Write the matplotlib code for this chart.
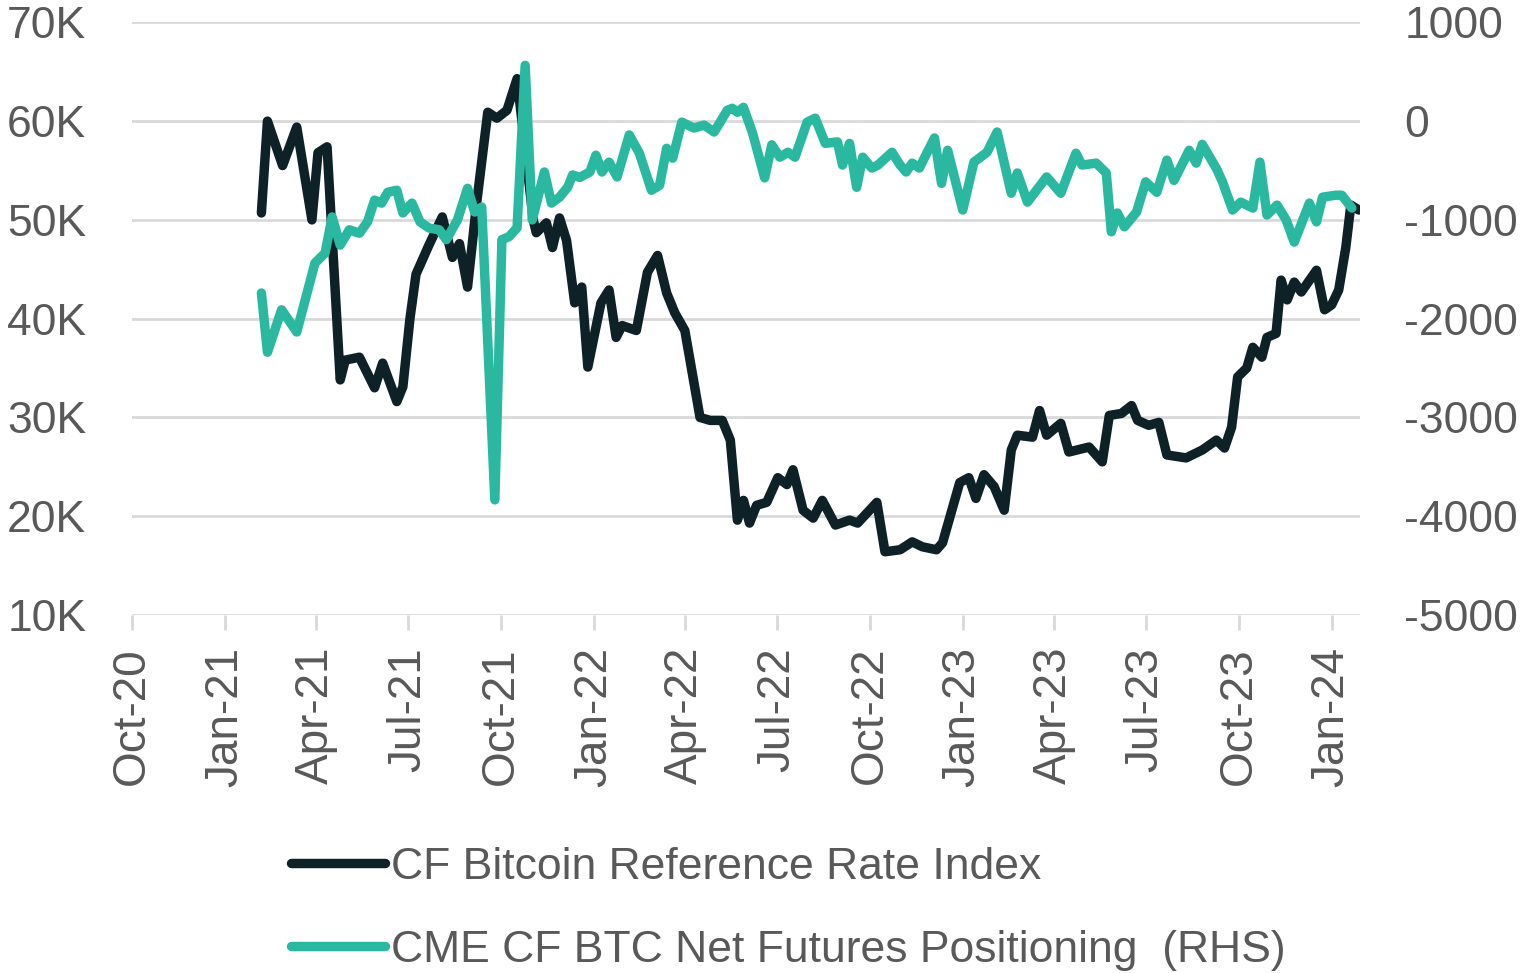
import numpy as np
import pandas as pd
import matplotlib
matplotlib.use("Agg")
import matplotlib.pyplot as plt
import matplotlib.dates as mdates
from matplotlib.ticker import FixedLocator, FuncFormatter

plt.rcParams['font.family'] = ['Liberation Sans', 'DejaVu Sans']

# CF Bitcoin Reference Rate Index (USD thousands)
btc_dates = [
    "2021-02-06", "2021-02-12", "2021-02-27", "2021-03-13", "2021-03-28", "2021-04-03",
    "2021-04-12", "2021-04-25", "2021-04-30", "2021-05-14", "2021-05-29", "2021-06-06",
    "2021-06-20", "2021-06-26", "2021-07-03", "2021-07-09", "2021-07-22", "2021-08-04",
    "2021-08-14", "2021-08-21", "2021-08-29", "2021-09-07", "2021-09-18", "2021-09-27",
    "2021-10-07", "2021-10-17", "2021-11-02", "2021-11-05", "2021-11-15", "2021-11-21",
    "2021-11-28", "2021-12-05", "2021-12-13", "2021-12-20", "2021-12-26", "2022-01-08",
    "2022-01-16", "2022-01-23", "2022-01-29", "2022-02-12", "2022-02-23", "2022-03-05",
    "2022-03-14", "2022-03-22", "2022-04-01", "2022-04-16", "2022-04-26", "2022-05-08",
    "2022-05-16", "2022-05-23", "2022-05-29", "2022-06-04", "2022-06-11", "2022-06-21",
    "2022-07-02", "2022-07-11", "2022-07-17", "2022-07-27", "2022-08-06", "2022-08-15",
    "2022-08-28", "2022-09-11", "2022-09-19", "2022-10-08", "2022-10-16", "2022-10-31",
    "2022-11-12", "2022-11-22", "2022-12-06", "2022-12-12", "2022-12-29", "2023-01-07",
    "2023-01-14", "2023-01-22", "2023-02-01", "2023-02-11", "2023-02-18", "2023-02-24",
    "2023-03-11", "2023-03-18", "2023-03-25", "2023-04-08", "2023-04-16", "2023-05-06",
    "2023-05-19", "2023-05-26", "2023-06-07", "2023-06-17", "2023-06-23", "2023-07-04",
    "2023-07-14", "2023-07-22", "2023-08-10", "2023-08-26", "2023-09-09", "2023-09-17",
    "2023-09-24", "2023-09-30", "2023-10-09", "2023-10-15", "2023-10-24", "2023-10-29",
    "2023-11-07", "2023-11-12", "2023-11-18", "2023-11-25", "2023-12-02", "2023-12-17",
    "2023-12-25", "2024-01-01", "2024-01-08", "2024-01-15", "2024-01-20", "2024-01-28",
]
btc_values = [
    50.7, 60.0, 55.5, 59.4, 50.0, 56.8,
    57.4, 33.8, 35.8, 36.1, 33.0, 35.5,
    31.6, 33.1, 40.0, 44.5, 47.5, 50.3,
    46.2, 47.6, 43.2, 51.7, 60.9, 60.3,
    61.1, 64.3, 50.0, 48.7, 49.7, 47.2,
    50.2, 47.9, 41.6, 43.2, 35.1, 41.6,
    42.9, 38.1, 39.3, 38.8, 44.7, 46.4,
    42.6, 40.6, 38.8, 30.0, 29.7, 29.7,
    27.7, 19.6, 21.6, 19.3, 21.1, 21.4,
    23.9, 23.2, 24.7, 20.6, 19.8, 21.6,
    19.1, 19.6, 19.3, 21.4, 16.4, 16.6,
    17.4, 16.9, 16.6, 17.3, 23.4, 23.9,
    21.8, 24.2, 23.0, 20.6, 26.7, 28.2,
    28.0, 30.7, 28.2, 29.4, 26.5, 27.0,
    25.5, 30.2, 30.4, 31.2, 29.7, 29.2,
    29.5, 26.2, 25.9, 26.7, 27.7, 26.9,
    29.0, 34.1, 35.0, 37.1, 36.1, 38.1,
    38.5, 43.9, 41.9, 43.7, 42.7, 44.9,
    40.9, 41.4, 42.9, 47.2, 51.5, 51.0,
]

# CME CF BTC net futures positioning (contracts, RHS)
pos_dates = [
    "2021-02-06", "2021-02-12", "2021-02-26", "2021-03-13", "2021-03-31", "2021-04-10",
    "2021-04-17", "2021-04-25", "2021-05-04", "2021-05-14", "2021-05-22", "2021-05-29",
    "2021-06-05", "2021-06-11", "2021-06-20", "2021-06-26", "2021-07-05", "2021-07-13",
    "2021-07-22", "2021-08-01", "2021-08-08", "2021-08-19", "2021-08-29", "2021-09-05",
    "2021-09-12", "2021-09-25", "2021-10-02", "2021-10-09", "2021-10-17", "2021-10-25",
    "2021-11-01", "2021-11-13", "2021-11-20", "2021-11-28", "2021-12-06", "2021-12-11",
    "2021-12-18", "2021-12-28", "2022-01-03", "2022-01-09", "2022-01-16", "2022-01-24",
    "2022-02-05", "2022-02-15", "2022-02-27", "2022-03-07", "2022-03-14", "2022-03-20",
    "2022-03-29", "2022-04-10", "2022-04-20", "2022-04-30", "2022-05-13", "2022-05-18",
    "2022-05-23", "2022-05-29", "2022-06-07", "2022-06-19", "2022-06-26", "2022-07-04",
    "2022-07-12", "2022-07-19", "2022-07-31", "2022-08-08", "2022-08-18", "2022-08-30",
    "2022-09-04", "2022-09-11", "2022-09-18", "2022-09-24", "2022-10-03", "2022-10-09",
    "2022-10-23", "2022-10-31", "2022-11-06", "2022-11-12", "2022-11-19", "2022-12-04",
    "2022-12-11", "2022-12-17", "2023-01-01", "2023-01-12", "2023-01-25", "2023-02-04",
    "2023-02-18", "2023-02-24", "2023-03-06", "2023-03-25", "2023-04-08", "2023-04-23",
    "2023-04-29", "2023-05-13", "2023-05-23", "2023-05-28", "2023-06-03", "2023-06-10",
    "2023-06-22", "2023-07-01", "2023-07-12", "2023-07-22", "2023-07-29", "2023-08-13",
    "2023-08-20", "2023-08-26", "2023-09-09", "2023-09-15", "2023-09-25", "2023-10-03",
    "2023-10-15", "2023-10-22", "2023-10-29", "2023-11-08", "2023-11-17", "2023-11-25",
    "2023-12-10", "2023-12-17", "2023-12-23", "2024-01-05", "2024-01-11", "2024-01-21",
]
pos_values = [
    -1740, -2340, -1910, -2135, -1437, -1336,
    -970, -1255, -1100, -1135, -1020, -800,
    -830, -720, -700, -930, -830, -1020,
    -1083, -1100, -1200, -1000, -680, -920,
    -870, -3835, -1200, -1170, -1080, 565,
    -1000, -515, -830, -770, -670, -545,
    -570, -515, -345, -515, -415, -565,
    -140, -325, -700, -650, -275, -375,
    -10, -70, -40, -110, 110, 130,
    90, 140, -120, -575, -240, -365,
    -315, -365, -10, 30, -225, -210,
    -445, -225, -670, -365, -475, -445,
    -315, -445, -515, -425, -475, -170,
    -630, -295, -900, -415, -315, -110,
    -730, -525, -820, -565, -730, -325,
    -445, -425, -525, -1120, -930, -1070,
    -920, -615, -720, -395, -600, -295,
    -425, -235, -480, -615, -900, -820,
    -880, -415, -950, -850, -1000, -1225,
    -830, -1020, -770, -750, -750, -880,
]

x_ticks = pd.date_range("2020-10-01", "2024-01-01", freq="QS-OCT")
left_ticks = [10, 20, 30, 40, 50, 60, 70]
right_ticks = [-5000, -4000, -3000, -2000, -1000, 0, 1000]

dark = "#0e2127"
teal = "#2bb8a1"
grid_c = "#d9d9d9"
text_c = "#595959"

fig = plt.figure(figsize=(15.37, 9.73), dpi=100)
ax = fig.add_axes([0.0859, 0.368, 0.7989, 0.609])
ax2 = ax.twinx()

ax.plot(pd.to_datetime(btc_dates), btc_values, color=dark, lw=6.8,
        solid_joinstyle="round", solid_capstyle="round",
        label="CF Bitcoin Reference Rate Index")
ax2.plot(pd.to_datetime(pos_dates), pos_values, color=teal, lw=6.8,
         solid_joinstyle="round", solid_capstyle="round",
         label="CME CF BTC Net Futures Positioning  (RHS)")

ax.set_xlim(pd.Timestamp("2020-10-01"), pd.Timestamp("2024-01-29"))
ax.set_ylim(10, 70)
ax2.set_ylim(-5000, 1000)

ax.yaxis.set_major_locator(FixedLocator(left_ticks))
ax.yaxis.set_major_formatter(FuncFormatter(lambda v, p: f"{int(v)}K"))
ax2.yaxis.set_major_locator(FixedLocator(right_ticks))
ax2.yaxis.set_major_formatter(FuncFormatter(lambda v, p: f"{int(v)}"))

ax.set_xticks(x_ticks)
ax.xaxis.set_major_formatter(mdates.DateFormatter("%b-%y"))

ax.grid(axis="y", color=grid_c, lw=2)
ax.set_axisbelow(True)
for a in (ax, ax2):
    for s in a.spines.values():
        s.set_visible(False)

ax.tick_params(axis="y", length=0, pad=33, labelsize=32, labelcolor=text_c)
ax2.tick_params(axis="y", length=0, pad=32, labelsize=32, labelcolor=text_c)
ax.tick_params(axis="x", length=11, width=2, color=grid_c, pad=12,
               labelsize=33, labelcolor=text_c, labelrotation=90)

h1, l1 = ax.get_legend_handles_labels()
h2, l2 = ax2.get_legend_handles_labels()
fig.legend(h1 + h2, l1 + l2, loc="upper left", bbox_to_anchor=(0.178, 0.148),
           frameon=False, fontsize=32, labelcolor=text_c, handlelength=2.1,
           handletextpad=0.15, labelspacing=0.95, borderaxespad=0)

fig.savefig("out.png", dpi=100)
